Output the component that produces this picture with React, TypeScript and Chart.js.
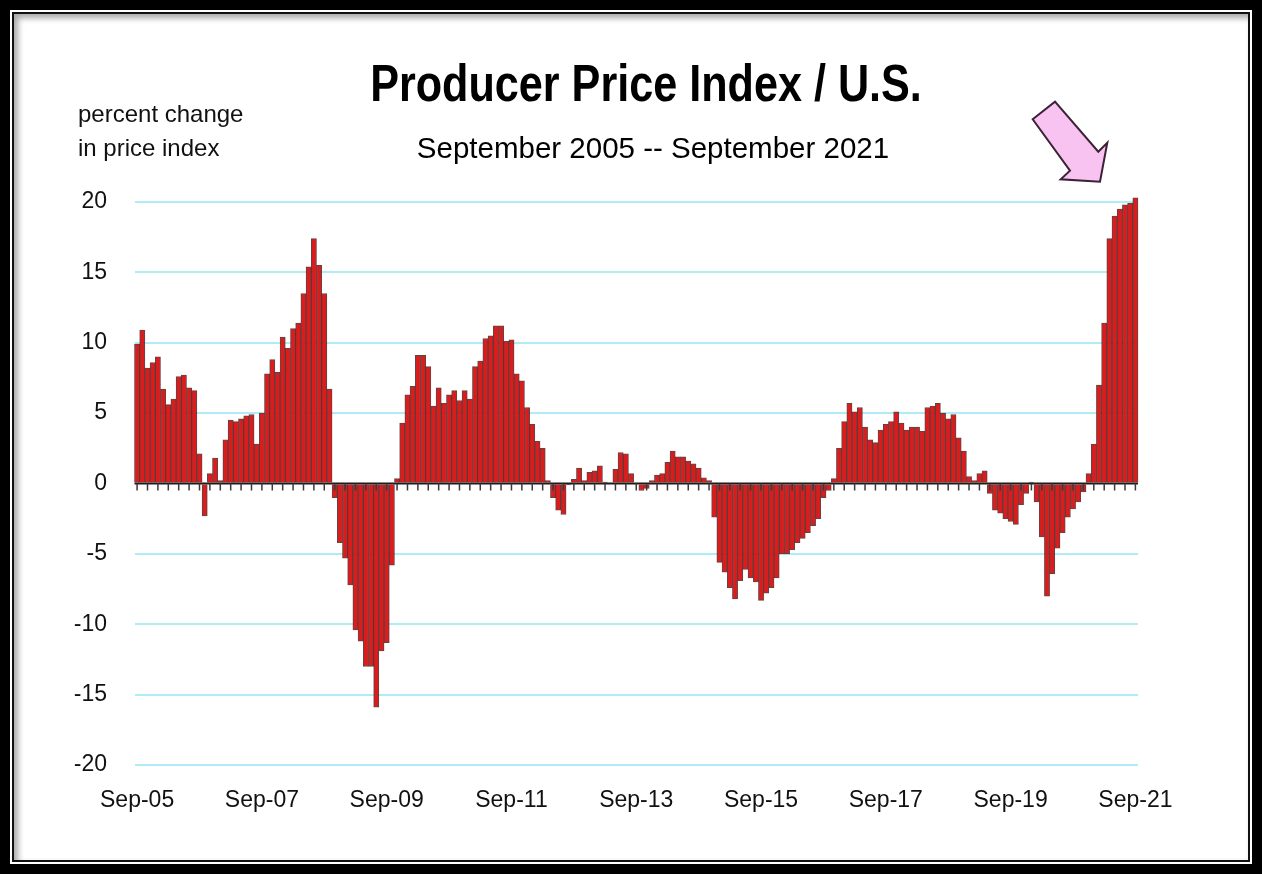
import React, { useEffect, useRef } from "react";
import { Chart, registerables } from "chart.js";

Chart.register(...registerables);

// Monthly year-over-year % change, Sep 2005 .. Sep 2021 (193 months)
const ppiChange: number[] = [
  9.9, 10.9, 8.2, 8.6, 9.0, 6.7, 5.6, 6.0, 7.6, 7.7, 6.8, 6.6,
  2.1, -2.3, 0.7, 1.8, 0.2, 3.1, 4.5, 4.4, 4.6, 4.8, 4.9, 2.8,
  5.0, 7.8, 8.8, 7.9, 10.4, 9.6, 11.0, 11.4, 13.5, 15.4, 17.4, 15.5,
  13.5, 6.7, -1.0, -4.2, -5.3, -7.2, -10.4, -11.2, -13.0, -13.0, -15.9, -11.9,
  -11.3, -5.8, 0.35, 4.3, 6.3, 6.9, 9.1, 9.1, 8.3, 5.5, 6.8, 5.7,
  6.3, 6.6, 5.9, 6.6, 6.0, 8.3, 8.7, 10.3, 10.5, 11.2, 11.2, 10.1,
  10.2, 7.8, 7.3, 5.4, 4.2, 3.0, 2.5, 0.2, -1.0, -1.9, -2.2, -0.1,
  0.3, 1.1, 0.2, 0.8, 0.9, 1.25, 0.1, 0.0, 1.0, 2.2, 2.1, 0.7,
  0.0, -0.5, -0.35, 0.2, 0.6, 0.7, 1.5, 2.3, 1.9, 1.9, 1.6, 1.4,
  1.1, 0.4, 0.2, -2.4, -5.6, -6.3, -7.4, -8.2, -6.9, -6.1, -6.7, -7.0,
  -8.3, -7.8, -7.4, -6.7, -5.0, -5.0, -4.7, -4.2, -3.9, -3.5, -3.0, -2.5,
  -1.0, -0.5, 0.35, 2.5, 4.4, 5.7, 5.1, 5.4, 4.0, 3.1, 2.9, 3.8,
  4.2, 4.4, 5.1, 4.3, 3.8, 4.0, 4.0, 3.7, 5.4, 5.5, 5.7, 5.0,
  4.6, 4.9, 3.25, 2.3, 0.5, 0.2, 0.7, 0.9, -0.7, -1.9, -2.1, -2.5,
  -2.7, -2.9, -1.5, -0.7, 0.1, -1.3, -3.8, -8.0, -6.4, -4.6, -3.5, -2.4,
  -1.8, -1.3, -0.6, 0.7, 2.8, 7.0, 11.4, 17.4, 19.0, 19.5, 19.8, 19.9,
  20.3,
];

const tickLabels: string[] = [
  "Sep-05", "Sep-07", "Sep-09", "Sep-11", "Sep-13", "Sep-15", "Sep-17", "Sep-19", "Sep-21",
];

const monthNames: string[] = [
  "Jan", "Feb", "Mar", "Apr", "May", "Jun", "Jul", "Aug", "Sep", "Oct", "Nov", "Dec",
];

const startYear = 2005;
const startMonthIndex = 8; // September

const categories: string[] = ppiChange.map((_, i) => {
  const m = (startMonthIndex + i) % 12;
  const y = startYear + Math.floor((startMonthIndex + i) / 12);
  return `${monthNames[m]}-${String(y % 100).padStart(2, "0")}`;
});

const yMin = -20;
const yMax = 20;
const yStep = 5;

const FONT = "'Liberation Sans', Arial, Helvetica, sans-serif";

const zeroAxisPlugin = {
  id: "zeroAxis",
  afterDatasetsDraw(chart: any) {
    const { ctx, chartArea, scales } = chart;
    const x = scales.x;
    const y = scales.y;
    const y0 = y.getPixelForValue(0);
    ctx.save();
    ctx.strokeStyle = "#1c1c1c";
    ctx.lineWidth = 2;
    ctx.beginPath();
    ctx.moveTo(chartArea.left, y0);
    ctx.lineTo(chartArea.right, y0);
    ctx.stroke();
    ctx.strokeStyle = "#3a3a3a";
    ctx.lineWidth = 1.5;
    for (let i = 0; i < categories.length; i += 2) {
      const px = x.getPixelForValue(i);
      ctx.beginPath();
      ctx.moveTo(px, y0);
      ctx.lineTo(px, y0 + 7);
      ctx.stroke();
    }
    ctx.restore();
  },
};

export default function App() {
  const canvasRef = useRef<HTMLCanvasElement | null>(null);

  useEffect(() => {
    if (!canvasRef.current) return;
    const chart = new Chart(canvasRef.current, {
      type: "bar",
      data: {
        labels: categories,
        datasets: [
          {
            data: ppiChange,
            backgroundColor: "#da1c1c",
            borderColor: "rgba(70,35,35,0.85)",
            borderWidth: 1,
            barPercentage: 1,
            categoryPercentage: 1,
            clip: false as any,
          },
        ],
      },
      plugins: [zeroAxisPlugin],
      options: {
        animation: false,
        responsive: false,
        maintainAspectRatio: false,
        devicePixelRatio: 1,
        layout: {
          padding: { left: 74.5, right: 124, top: 202, bottom: 59 },
        },
        plugins: {
          legend: { display: false },
          title: { display: false },
          tooltip: { enabled: false },
        },
        scales: {
          x: {
            type: "category",
            grid: { display: false, drawTicks: false },
            border: { display: false },
            ticks: {
              autoSkip: false,
              maxRotation: 0,
              minRotation: 0,
              padding: 22,
              color: "#111",
              font: { family: FONT, size: 23 },
              callback: (_v: any, idx: number) =>
                tickLabels.includes(categories[idx]) ? categories[idx] : "",
            },
            afterFit: (s: any) => {
              s.height = 50;
            },
          },
          y: {
            min: yMin,
            max: yMax,
            grid: {
              color: (c: any) => (c.tick && c.tick.value === 0 ? "rgba(0,0,0,0)" : "#aeedf6"),
              lineWidth: 2,
              drawTicks: false,
            },
            border: { display: false },
            ticks: {
              stepSize: yStep,
              padding: 27.5,
              color: "#111",
              font: { family: FONT, size: 23 },
            },
            afterFit: (s: any) => {
              s.width = 60;
            },
          },
        },
      },
    });
    return () => chart.destroy();
  }, []);

  return (
    <div
      style={{
        position: "fixed",
        left: 0,
        top: 0,
        width: 1262,
        height: 874,
        background: "#000",
        overflow: "hidden",
        fontFamily: FONT,
      }}
    >
      <div style={{ position: "absolute", left: 10, top: 10, right: 10, bottom: 10, background: "#fff" }} />
      <div
        style={{
          position: "absolute",
          left: 12,
          top: 12,
          right: 12,
          bottom: 12,
          border: "2px solid #111",
          background: "#fff",
          boxShadow: "inset 4px 4px 6px rgba(0,0,0,0.35)",
        }}
      />
      <canvas
        ref={canvasRef}
        width={1262}
        height={874}
        style={{ position: "absolute", left: 0, top: 0, width: 1262, height: 874 }}
      />
      <div
        style={{
          position: "absolute",
          left: 0,
          width: 1292,
          top: 57,
          textAlign: "center",
          fontSize: 52,
          lineHeight: 1,
          fontWeight: "bold",
          color: "#000",
          whiteSpace: "nowrap",
          transform: "scaleX(0.83)",
          transformOrigin: "646px 0",
        }}
      >
        Producer Price Index / U.S.
      </div>
      <div
        style={{
          position: "absolute",
          left: 0,
          width: 1306,
          top: 133,
          textAlign: "center",
          fontSize: 29.5,
          lineHeight: 1,
          color: "#000",
          whiteSpace: "nowrap",
        }}
      >
        September 2005 -- September 2021
      </div>
      <div
        style={{
          position: "absolute",
          left: 78,
          top: 102,
          fontSize: 24,
          lineHeight: 1,
          color: "#111",
          whiteSpace: "nowrap",
        }}
      >
        percent change
      </div>
      <div
        style={{
          position: "absolute",
          left: 78,
          top: 136,
          fontSize: 24,
          lineHeight: 1,
          color: "#111",
          whiteSpace: "nowrap",
        }}
      >
        in price index
      </div>
      <svg
        width={1262}
        height={874}
        style={{ position: "absolute", left: 0, top: 0, pointerEvents: "none" }}
      >
        <polygon
          points="1032.7,119.3 1055,101.7 1098.3,151.7 1107.3,142.7 1100,181.7 1060.7,179.3 1070,170.7"
          fill="#f9c3f1"
          stroke="#3b2236"
          strokeWidth={2}
          strokeLinejoin="miter"
        />
      </svg>
    </div>
  );
}
